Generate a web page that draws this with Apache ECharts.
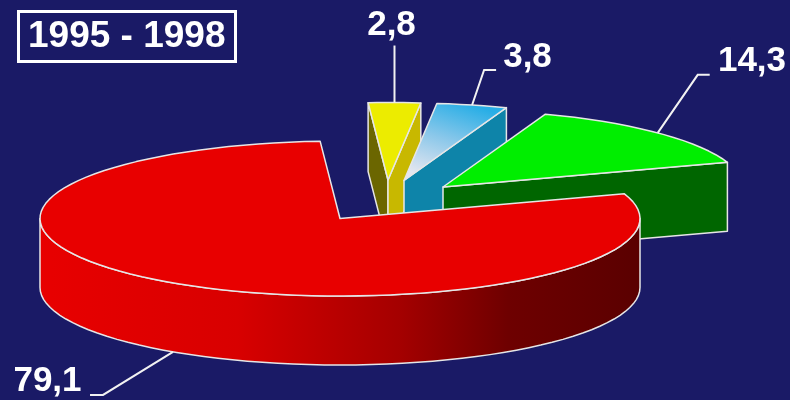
<!DOCTYPE html>
<html><head><meta charset="utf-8">
<script src="https://cdn.jsdelivr.net/npm/echarts@6/dist/echarts.min.js"></script>
<style>html,body{margin:0;padding:0;background:#1a1a66}#c{width:790px;height:400px}</style>
</head><body><div id="c"></div>
<script>
// Data (slices clockwise from the top of the pie, back pieces first)
const periodTitle = '1995 - 1998';
const sliceNames = ['Yellow', 'Blue', 'Green', 'Red'];
const sliceValues = [2.8, 3.8, 14.3, 79.1];

// Layout and style
const centre = [340, 218.5], radiusX = 300, radiusY = 77.5, depth = 69, startDeg = 93.8;
const explode = [[48, -38.5], [64, -38], [103, -31.5], [0, 0]];
const elbowOffset = [[0, -57], [12, -35], [40, -58], [-70, 43]];
const elbowRun = [0, 12, 12, -13];
const labelPos = [[391.5, 25], [527.5, 57], [752, 61], [47.5, 381]];
const topFill = ['#ecec00',
  {type:'linear',x:0.6,y:0,x2:0.35,y2:1,colorStops:[{offset:0,color:'#28aee6'},{offset:0.5,color:'#8cc8ea'},{offset:1,color:'#e4e6f0'}]},
  '#00ee00', '#e80000'];
const lowFace = ['#c8b800', '#0e84a9', '#006600', null];
const highFace = ['#6b6600', null, null, null];
const wallFill = {type:'linear',x:0,y:0,x2:1,y2:0,colorStops:[
  {offset:0,color:'#e80000'},{offset:0.33,color:'#d80000'},{offset:0.6,color:'#a40000'},{offset:0.78,color:'#6e0000'},{offset:1,color:'#5a0000'}]};
const edge = '#e6e6e6', white = '#ffffff';

const rad = d => d * Math.PI / 180;
let cum = 0;
const total = sliceValues.reduce((a, b) => a + b, 0);
const seriesData = sliceValues.map((v, i) => {
  const hi = startDeg - cum / total * 360;
  cum += v;
  const lo = startDeg - cum / total * 360;
  return {name: sliceNames[i], value: [v, lo, hi, i]};
});

function renderSlice(params, api) {
  const v = api.value(0), lo = api.value(1), hi = api.value(2), i = api.value(3);
  const ox = centre[0] + explode[i][0], oy = centre[1] + explode[i][1];
  const P = (t, dz) => [ox + radiusX * Math.cos(rad(t)), oy - radiusY * Math.sin(rad(t)) + (dz || 0)];
  const apex = [ox, oy], apexLow = [ox, oy + depth];
  const kids = [];
  const poly = (points, fill, z) => kids.push({type:'polygon', shape:{points}, z2:z,
    style:{fill, stroke:edge, lineWidth:1.5, lineJoin:'round'}});
  if (highFace[i]) poly([apex, P(hi), P(hi, depth), apexLow], highFace[i], 1);
  if (lowFace[i]) poly([apex, P(lo), P(lo, depth), apexLow], lowFace[i], 2);
  // outer wall: front half of the rim only
  if (hi - lo > 180) {
    const wall = [];
    for (let t = -180; t <= 0; t += 3) wall.push(P(t));
    for (let t = 0; t >= -180; t -= 3) wall.push(P(t, depth));
    poly(wall, wallFill, 3);
  }
  const top = [apex];
  const n = Math.max(6, Math.round((hi - lo) / 3));
  for (let k = 0; k <= n; k++) top.push(P(hi - (hi - lo) * k / n));
  poly(top, topFill[i], 4);
  // leader and label
  const mid = (lo + hi) / 2;
  const rim = P(mid, Math.sin(rad(mid)) < 0 ? depth : 0);
  const elbow = [rim[0] + elbowOffset[i][0], rim[1] + elbowOffset[i][1]];
  const pts = [rim, elbow];
  if (elbowRun[i]) pts.push([elbow[0] + elbowRun[i], elbow[1]]);
  kids.push({type:'polyline', shape:{points:pts}, z2:5, style:{fill:'none', stroke:'#f2f2f2', lineWidth:2}});
  kids.push({type:'text', z2:6, style:{text:String(v).replace('.', ','), x:labelPos[i][0], y:labelPos[i][1],
    fill:white, font:'bold 35px "Liberation Sans", Arial, sans-serif', textAlign:'center', textVerticalAlign:'middle'}});
  return {type:'group', children:kids};
}

const chart = echarts.init(document.getElementById('c'), null, {renderer:'canvas'});
chart.setOption({
  animation:false,
  backgroundColor:'#1a1a66',
  title:{text:periodTitle, left:18, top:11, padding:[7,10,7,10], borderColor:white, borderWidth:3,
    textStyle:{color:white, fontFamily:'"Liberation Sans", Arial, sans-serif', fontWeight:'bold', fontSize:37, lineHeight:37}},
  series:[{type:'custom', coordinateSystem:'none', clip:false, silent:true, renderItem:renderSlice, data:seriesData}]
});
</script></body></html>
